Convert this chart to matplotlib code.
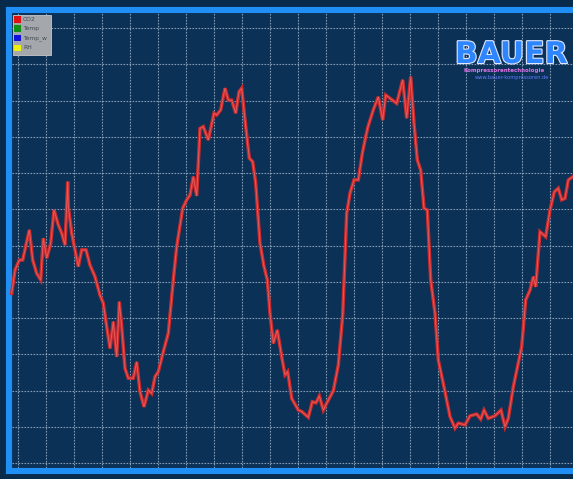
import matplotlib
matplotlib.use("Agg")
import matplotlib.pyplot as plt
from matplotlib.patches import Rectangle
import matplotlib.patheffects as pe

# ---- data (time in grid units, CO2 in grid units) ----
time_h = [-0.225, -0.107, 0.046, 0.168, 0.404, 0.525, 0.668, 0.811, 0.904, 1.025,
          1.168, 1.286, 1.439, 1.561, 1.679, 1.775, 1.796, 1.918, 2.154, 2.275,
          2.429, 2.571, 2.75, 2.929, 3.046, 3.168, 3.286, 3.404, 3.525, 3.618,
          3.704, 3.821, 3.939, 4.118, 4.239, 4.357, 4.5, 4.654, 4.775, 4.893,
          5.011, 5.189, 5.368, 5.546, 5.668, 5.882, 6.025, 6.143, 6.261, 6.382,
          6.5, 6.618, 6.796, 7.0, 7.096, 7.239, 7.393, 7.511, 7.632, 7.775,
          7.893, 7.989, 8.107, 8.261, 8.382, 8.489, 8.643, 8.786, 8.904, 9.0,
          9.118, 9.261, 9.418, 9.536, 9.632, 9.775, 10.011, 10.132, 10.368, 10.511,
          10.643, 10.761, 10.904, 11.025, 11.261, 11.439, 11.596, 11.739, 11.857, 12.0,
          12.154, 12.296, 12.418, 12.5, 12.689, 12.868, 13.025, 13.132, 13.286, 13.525,
          13.739, 13.882, 14.025, 14.143, 14.261, 14.382, 14.5, 14.618, 14.739, 14.893,
          15.011, 15.214, 15.429, 15.607, 15.725, 15.964, 16.143, 16.382, 16.525, 16.643,
          16.796, 17.036, 17.25, 17.393, 17.511, 17.689, 17.989, 18.132, 18.286, 18.404,
          18.489, 18.643, 18.846, 19.0, 19.154, 19.296, 19.418, 19.536, 19.654, 19.821]
co2 = [4.68, 5.32, 5.60, 5.60, 6.43, 5.60, 5.23, 5.05, 6.20, 5.65,
       6.06, 6.98, 6.57, 6.34, 6.01, 7.76, 7.07, 6.34, 5.42, 5.88,
       5.88, 5.46, 5.14, 4.63, 4.41, 3.76, 3.16, 3.90, 2.93, 4.45,
       3.76, 2.61, 2.34, 2.34, 2.79, 1.97, 1.55, 2.01, 1.92, 2.38,
       2.52, 3.07, 3.58, 5.05, 5.97, 7.03, 7.26, 7.39, 7.90, 7.37,
       9.23, 9.28, 8.91, 9.65, 9.60, 9.74, 10.34, 10.01, 10.01, 9.65,
       10.24, 10.34, 9.46, 8.41, 8.31, 7.72, 6.06, 5.42, 5.05, 4.13,
       3.30, 3.67, 2.93, 2.43, 2.52, 1.78, 1.46, 1.42, 1.26, 1.69,
       1.66, 1.85, 1.46, 1.65, 1.99, 2.70, 4.08, 6.89, 7.44, 7.81,
       7.81, 8.54, 9.00, 9.28, 9.74, 10.10, 9.46, 10.15, 10.06, 9.92,
       10.57, 9.51, 10.66, 9.37, 8.36, 8.08, 7.03, 6.98, 5.05, 4.13,
       2.84, 2.10, 1.28, 0.96, 1.10, 1.05, 1.30, 1.35, 1.21, 1.46,
       1.23, 1.30, 1.46, 1.00, 1.23, 2.10, 3.21, 4.50, 4.77, 5.14,
       4.86, 6.38, 6.24, 6.98, 7.48, 7.58, 7.26, 7.30, 7.81, 7.90]

legend_labels = ["CO2", "Temp", "Temp_w", "RH"]
legend_colors = ["#e01010", "#109010", "#1010e0", "#f0f010"]

W, H = 573, 479
fig = plt.figure(figsize=(W / 100, H / 100), dpi=100)
fig.patch.set_facecolor("#082a4b")

# axes: left/top/bottom borders visible, right side runs past the image
left_px, top_px, bot_px, right_px = 8.5, 9.5, 471, 600
ax = fig.add_axes([left_px / W, (H - bot_px) / H,
                   (right_px - left_px) / W, (bot_px - top_px) / H])
ax.set_facecolor("#0c3156")
ax.set_xlim((left_px - 18) / 28, (right_px - 18) / 28)
ax.set_ylim((463 - bot_px) / 36.25, (463 - top_px) / 36.25)

for s in ["left", "top", "bottom", "right"]:
    ax.spines[s].set_color("#1f8ff5")
    ax.spines[s].set_linewidth(4.4)
ax.set_xticks(range(0, 21))
ax.set_yticks(range(0, 13))
ax.tick_params(length=0, labelleft=False, labelbottom=False)
ax.grid(True, color="#a0b6cc", linewidth=0.8, linestyle=(0, (1.5, 1.2)), alpha=0.8)
ax.set_axisbelow(True)

ax.plot(time_h, co2, color="#c92a2c", linewidth=2.5, solid_joinstyle="miter", zorder=3)
ax.plot(time_h, co2, color="#e65a5a", linewidth=0.7, zorder=4)

# legend box (top-left)
def fx(px):
    return px / W

def fy(py):
    return (H - py) / H

fig.patches.append(Rectangle((fx(12.7), fy(54.5)), fx(51) - fx(12.7), fy(15) - fy(54.5),
                             transform=fig.transFigure, facecolor="#a4a8ac",
                             edgecolor="#c8c8c8", linewidth=0.6, zorder=10))
rows = [16, 25.3, 34.5, 44.5]
for lab, col, r in zip(legend_labels, legend_colors, rows):
    fig.patches.append(Rectangle((fx(14.2), fy(r + 6.5)), fx(6.5), 6.5 / H,
                                 transform=fig.transFigure, facecolor=col,
                                 edgecolor="none", zorder=11))
    fig.text(fx(23), fy(r + 3.3), lab, fontsize=4.3, color="#404850",
             va="center", ha="left", zorder=12)

# logo
fig.text(fx(455), fy(63), "BAUER", fontsize=21.5, fontweight="bold", color="#2d86ff",
         ha="left", va="baseline", zorder=12,
         path_effects=[pe.withStroke(linewidth=1.6, foreground="#dfe8ff")])
fig.text(fx(464), fy(70.5), "Kompressorentechnologie", fontsize=4.0, color="#e070e8",
         ha="left", va="center", fontweight="bold", zorder=12)
fig.text(fx(475), fy(78), "www.bauer-kompressoren.de", fontsize=3.7, color="#5f7dff",
         ha="left", va="center", zorder=12)

fig.savefig("out.png", dpi=100, facecolor=fig.get_facecolor())
